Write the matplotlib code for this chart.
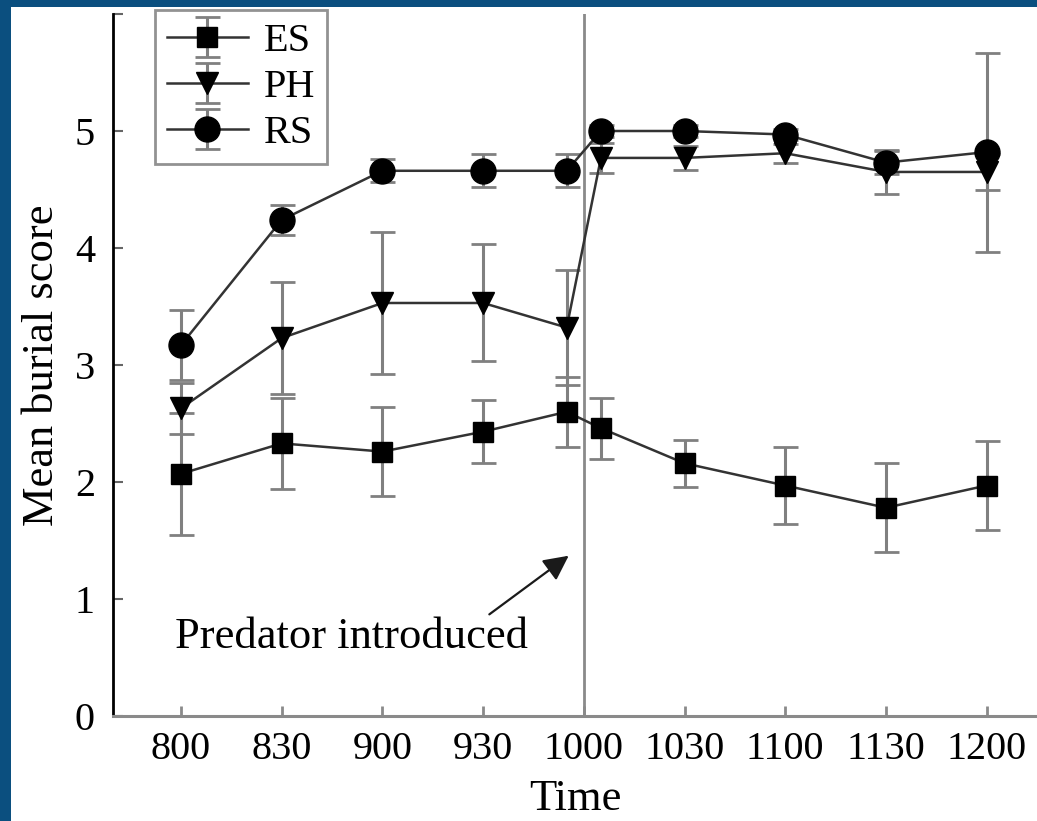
import numpy as np
import matplotlib
matplotlib.use("Agg")
import matplotlib.pyplot as plt
from matplotlib.patches import Rectangle

plt.rcParams['font.family'] = ['Liberation Serif', 'DejaVu Serif']

# time axis labels and sample times (two samples around 1000: before / after predator)
time_labels = ['800', '830', '900', '930', '1000', '1030', '1100', '1130', '1200']
sample_x = [0, 1, 2, 3, 3.83, 4.17, 5, 6, 7, 8]

es_mean = [2.07, 2.33, 2.26, 2.43, 2.60, 2.46, 2.16, 1.97, 1.78, 1.97]
es_err = [0.52, 0.39, 0.38, 0.27, 0.30, 0.26, 0.20, 0.33, 0.38, 0.38]
ph_mean = [2.63, 3.23, 3.53, 3.53, 3.32, 4.77, 4.77, 4.81, 4.65, 4.65]
ph_err = [0.22, 0.48, 0.61, 0.50, 0.49, 0.13, 0.10, 0.08, 0.19, 0.15]
rs_mean = [3.17, 4.24, 4.66, 4.66, 4.66, 5.00, 5.00, 4.97, 4.73, 4.82]
rs_err = [0.30, 0.13, 0.10, 0.14, 0.14, 0.05, 0.05, 0.05, 0.10, 0.85]

W, H = 1037, 821
fig = plt.figure(figsize=(W / 100, H / 100), dpi=100)
fig.patch.set_facecolor('#0b4f7f')
fig.add_artist(Rectangle((11 / W, 0), 1, (H - 7) / H, transform=fig.transFigure,
                         facecolor='white', edgecolor='none', zorder=-5))

ax = fig.add_axes([113 / W, (H - 716) / H, 1 - 113 / W, (716 - 14) / H])
ax.set_facecolor('none')

line_c = '#333333'
err_c = '#808080'
kw = dict(color=line_c, ecolor=err_c, elinewidth=2.2, capsize=9, capthick=2,
          linewidth=1.8, markerfacecolor='black', markeredgecolor='black')

h_es = ax.errorbar(sample_x, es_mean, yerr=es_err, marker='s', markersize=15, label='ES', **kw)
h_ph = ax.errorbar(sample_x, ph_mean, yerr=ph_err, marker='v', markersize=16, label='PH', **kw)
h_rs = ax.errorbar(sample_x, rs_mean, yerr=rs_err, marker='o', markersize=18, label='RS', **kw)

ax.axvline(4, color='#8a8a8a', linewidth=2, zorder=0)

ax.annotate('Predator introduced', xy=(3.85, 1.37), xytext=(-0.06, 0.58),
            fontsize=32, ha='left', va='baseline',
            arrowprops=dict(arrowstyle='-|>', color='#1a1a1a', lw=1.6,
                            mutation_scale=38, shrinkA=0, shrinkB=0,
                            relpos=(0.88, 1.0)))

ax.set_xlim(-0.675, 8.5)
ax.set_ylim(0, 6)
ax.set_xticks(range(len(time_labels)))
ax.set_xticklabels(time_labels)
ax.set_yticks(range(7))
ax.set_yticklabels(['0', '1', '2', '3', '4', '5', ''])

ax.spines['top'].set_visible(False)
ax.spines['right'].set_visible(False)
ax.spines['left'].set_color('black')
ax.spines['left'].set_linewidth(2)
ax.spines['bottom'].set_color('#8a8a8a')
ax.spines['bottom'].set_linewidth(2.2)

ax.tick_params(axis='x', direction='in', length=7, width=2, color='#8a8a8a',
               labelsize=29, pad=11)
ax.tick_params(axis='y', direction='in', length=7, width=1.5, color='#666666',
               labelsize=29, pad=13)

ax.set_xlabel('Time', fontsize=32, labelpad=8)
ax.set_ylabel('Mean burial score', fontsize=32, labelpad=9)

leg = ax.legend(handles=[h_es, h_ph, h_rs], loc='upper left',
                bbox_to_anchor=(42 / (W - 113), 1.005), fontsize=29,
                frameon=True, fancybox=False, edgecolor='#777777',
                handlelength=2.0, handletextpad=0.4, borderpad=0.3,
                labelspacing=0.22, borderaxespad=0)
leg.get_frame().set_linewidth(2)

fig.savefig('out.png', dpi=100, facecolor=fig.get_facecolor())
